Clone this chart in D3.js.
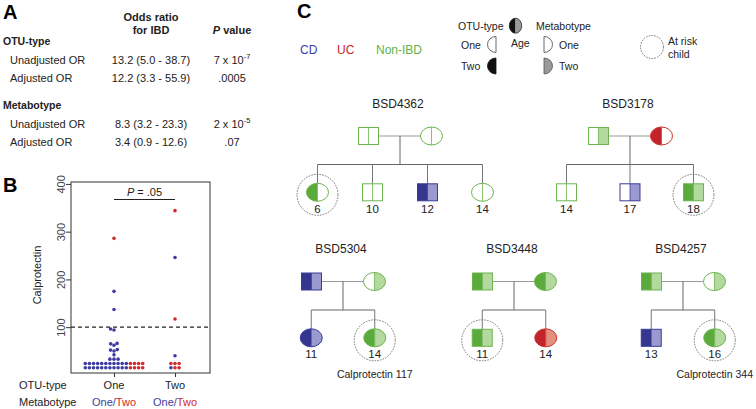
<!DOCTYPE html>
<html>
<head>
<meta charset="utf-8">
<script src="https://cdn.jsdelivr.net/npm/d3@7"></script>
<style>
  body { margin: 0; background: #fff; }
  svg { font-family: "Liberation Sans", Arial, sans-serif; }
</style>
</head>
<body>
<svg id="fig" width="756" height="409"></svg>
<script>
"use strict";

// ---- panel A: odds ratio table ----
const tableGroups = ["OTU-type", "Metabotype"];
const tableRowNames = ["Unadjusted OR", "Adjusted OR"];
const oddsRatios = [["13.2 (5.0 - 38.7)", "12.2 (3.3 - 55.9)"], ["8.3 (3.2 - 23.3)", "3.4 (0.9 - 12.6)"]];
const pValues = [["7 x 10^-7", ".0005"], ["2 x 10^-5", ".07"]];

// ---- panel B: calprotectin by OTU-type, coloured by metabotype ----
const otuTypes = ["One", "Two"];
const calproOneMetaOne = [15,15,15,15,15,15,15,15,15,15,15, 24,24,24,24,24,24,24,24,24,24,24,
                          33,33,33, 42, 50, 52, 53, 62, 65, 66, 94, 96, 137, 175];
const calproOneMetaTwo = [15,15,15,15, 24,24,24,24, 286];
const calproTwoMetaOne = [15, 40, 246];
const calproTwoMetaTwo = [15,15, 24,24,24, 117, 344];
const yTicks = [100, 200, 300, 400];
const calproCutoff = 100;
const pText = ".05";

// ---- panel C: family pedigrees ----
const familyIds = ["BSD4362", "BSD3178", "BSD5304", "BSD3448", "BSD4257"];
// [sex, diagnosis, OTU-type, metabotype]
const fathers = [["M","NonIBD",1,1], ["M","NonIBD",1,2], ["M","CD",2,2], ["M","NonIBD",2,2], ["M","NonIBD",2,2]];
const mothers = [["F","NonIBD",1,1], ["F","UC",2,1], ["F","NonIBD",1,2], ["F","NonIBD",2,2], ["F","NonIBD",1,2]];
// [sex, diagnosis, OTU-type, metabotype, age, at risk, calprotectin]
const children = [
  [["F","NonIBD",2,1,6,true,null], ["M","NonIBD",1,1,10,false,null], ["M","CD",2,2,12,false,null], ["F","NonIBD",1,1,14,false,null]],
  [["M","NonIBD",1,1,14,false,null], ["M","CD",1,2,17,false,null], ["M","NonIBD",2,2,18,true,null]],
  [["F","CD",2,2,11,false,null], ["F","NonIBD",2,2,14,true,117]],
  [["M","NonIBD",2,2,11,true,null], ["F","UC",2,2,14,false,null]],
  [["M","CD",2,2,13,false,null], ["F","NonIBD",2,2,16,true,344]]
];
const diagnoses = ["CD", "UC", "NonIBD"];
const diagnosisLabels = ["CD", "UC", "Non-IBD"];

// ---- styles / layout ----
const dxColors = {
  CD:     {line: "#3a3c98", dark: "#35378f", light: "#9a9ad0", text: "#3b3db0"},
  UC:     {line: "#cc3333", dark: "#c2242a", light: "#e3907f", text: "#cc2424"},
  NonIBD: {line: "#6cb44e", dark: "#5aab3b", light: "#b4d99e", text: "#5cb34a"}
};
const metaColors = {One: "#3c3ca2", Two: "#d22a2a"};
const ink = "#222";

const svg = d3.select("#fig");

// ================= Panel A =================
const gA = svg.append("g");
gA.append("text").attr("x", 3).attr("y", 19).attr("font-size", 20).attr("font-weight", "bold").text("A");
const colOR = 151, colP = 232;
gA.append("text").attr("x", colOR).attr("y", 20.5).attr("text-anchor", "middle")
  .attr("font-size", 11).attr("font-weight", "bold").attr("fill", ink).text("Odds ratio");
gA.append("text").attr("x", colOR).attr("y", 33.5).attr("text-anchor", "middle")
  .attr("font-size", 11).attr("font-weight", "bold").attr("fill", ink).text("for IBD");
let ph = gA.append("text").attr("x", colP).attr("y", 33.5).attr("text-anchor", "middle")
  .attr("font-size", 11).attr("font-weight", "bold").attr("fill", ink);
ph.append("tspan").attr("font-style", "italic").text("P");
ph.append("tspan").text(" value");

const groupY = [45, 109];
tableGroups.forEach(function(grp, gi){
  gA.append("text").attr("x", 3).attr("y", groupY[gi]).attr("font-size", 10.5)
    .attr("font-weight", "bold").attr("fill", ink).text(grp);
  tableRowNames.forEach(function(rn, ri){
    let yy = groupY[gi] + 18.5 + ri * 18.5;
    gA.append("text").attr("x", 10).attr("y", yy).attr("font-size", 11).attr("fill", ink).text(rn);
    gA.append("text").attr("x", colOR).attr("y", yy).attr("text-anchor", "middle")
      .attr("font-size", 11).attr("fill", ink).text(oddsRatios[gi][ri]);
    let parts = pValues[gi][ri].split("^");
    let t = gA.append("text").attr("x", colP).attr("y", yy).attr("text-anchor", "middle")
      .attr("font-size", 11).attr("fill", ink);
    t.append("tspan").text(parts[0]);
    if (parts[1]) t.append("tspan").attr("dy", -5).attr("font-size", 7.5).text(parts[1]);
  });
});

// ================= Panel B =================
const gB = svg.append("g");
gB.append("text").attr("x", 3).attr("y", 192).attr("font-size", 20).attr("font-weight", "bold").text("B");

const box = {left: 71, right: 210, top: 182, bottom: 373};
const y = d3.scaleLinear().domain([4, 404]).range([box.bottom, box.top]);
const x = d3.scalePoint().domain(otuTypes).range([114, 175]);

gB.append("rect").attr("x", box.left).attr("y", box.top)
  .attr("width", box.right - box.left).attr("height", box.bottom - box.top)
  .attr("fill", "none").attr("stroke", "#333").attr("stroke-width", 1);

// y axis
const yAxis = gB.append("g").attr("transform", "translate(" + box.left + ",0)")
  .call(d3.axisLeft(y).tickValues(yTicks).tickSize(5).tickFormat(d3.format("d")));
yAxis.select(".domain").remove();
yAxis.selectAll("line").attr("stroke", "#333");
yAxis.selectAll("text")
  .attr("x", null).attr("dy", null)
  .attr("transform", "translate(-6.5,0) rotate(-90)")
  .attr("text-anchor", "middle")
  .attr("font-size", 11).attr("fill", "#444")
  .attr("font-family", "Liberation Sans, Arial, sans-serif");
gB.append("text").attr("transform", "translate(41," + 275 + ") rotate(-90)")
  .attr("text-anchor", "middle").attr("font-size", 11).attr("fill", ink).text("Calprotectin");

// x axis
const xAxis = gB.append("g").attr("transform", "translate(0," + box.bottom + ")")
  .call(d3.axisBottom(x).tickSize(4).tickFormat(""));
xAxis.select(".domain").remove();
xAxis.selectAll("line").attr("stroke", "#333");

// cutoff line
gB.append("line").attr("x1", box.left).attr("x2", box.right)
  .attr("y1", y(calproCutoff)).attr("y2", y(calproCutoff))
  .attr("stroke", "#222").attr("stroke-width", 1.1).attr("stroke-dasharray", "4,3");

// significance bar
gB.append("line").attr("x1", x("One")).attr("x2", x("Two")).attr("y1", 199.5).attr("y2", 199.5)
  .attr("stroke", "#222").attr("stroke-width", 1.1);
let pt = gB.append("text").attr("x", (x("One") + x("Two")) / 2).attr("y", 196)
  .attr("text-anchor", "middle").attr("font-size", 11).attr("fill", ink);
pt.append("tspan").attr("font-style", "italic").text("P");
pt.append("tspan").text(" = " + pText);

// beeswarm: equal values form a centred row, others are packed greedily
const dotR = 1.8, rowGap = 4.1, minDist = 3.6;
function swarm(metaOne, metaTwo){
  let pts = metaOne.map(v => ({v: v, m: "One"})).concat(metaTwo.map(v => ({v: v, m: "Two"})));
  pts.forEach(p => p.py = y(p.v));
  let groups = d3.groups(pts, p => p.v).sort((a, b) => a[0] - b[0]);
  let placed = [];
  groups.forEach(function(g){
    let arr = g[1].sort((a, b) => (a.m === "Two") - (b.m === "Two"));
    if (arr.length > 1){
      arr.forEach(function(p, i){ p.dx = (i - (arr.length - 1) / 2) * rowGap; placed.push(p); });
    } else {
      let p = arr[0];
      let cands = [0];
      placed.forEach(function(q){
        let dy = Math.abs(q.py - p.py);
        if (dy < minDist){
          let off = Math.sqrt(minDist * minDist - dy * dy);
          cands.push(q.dx - off, q.dx + off);
        }
      });
      let ok = cands.filter(c => placed.every(q => Math.hypot(q.dx - c, q.py - p.py) >= minDist - 1e-6));
      ok.sort((a, b) => Math.abs(a) - Math.abs(b) || a - b);
      p.dx = ok[0];
      placed.push(p);
    }
  });
  return placed;
}
const swarmData = [
  {otu: "One", pts: swarm(calproOneMetaOne, calproOneMetaTwo)},
  {otu: "Two", pts: swarm(calproTwoMetaOne, calproTwoMetaTwo)}
];
swarmData.forEach(function(s){
  gB.append("g").selectAll("circle").data(s.pts).join("circle")
    .attr("cx", d => x(s.otu) + d.dx).attr("cy", d => d.py).attr("r", dotR)
    .attr("fill", d => metaColors[d.m]);
});

// labels under the plot
gB.append("text").attr("x", 19).attr("y", 388.5).attr("font-size", 11).attr("fill", ink).text("OTU-type");
gB.append("text").attr("x", 19).attr("y", 405.5).attr("font-size", 11).attr("fill", ink).text("Metabotype");
otuTypes.forEach(function(o){
  gB.append("text").attr("x", x(o)).attr("y", 388.5).attr("text-anchor", "middle")
    .attr("font-size", 11).attr("fill", ink).text(o);
  let t = gB.append("text").attr("x", x(o)).attr("y", 405.5).attr("text-anchor", "middle").attr("font-size", 11);
  t.append("tspan").attr("fill", metaColors.One).text("One/");
  t.append("tspan").attr("fill", metaColors.Two).text("Two");
});

// ================= Panel C =================
const gC = svg.append("g");
gC.append("text").attr("x", 297).attr("y", 18).attr("font-size", 20).attr("font-weight", "bold").text("C");

// diagnosis legend
const dxLegendX = [300, 337, 376];
diagnoses.forEach(function(dx, i){
  gC.append("text").attr("x", dxLegendX[i]).attr("y", 54).attr("font-size", 12)
    .attr("fill", dxColors[dx].text).text(diagnosisLabels[i]);
});

function halfPath(cx, cy, rx, ry, side){
  // side: 0 = left half, 1 = right half
  return "M" + cx + "," + (cy - ry) + " A" + rx + "," + ry + " 0 0 " + side + " " + cx + "," + (cy + ry) + " Z";
}

// OTU-type / metabotype legend
const lg = gC.append("g");
lg.append("path").attr("d", halfPath(515.5, 25.7, 6.2, 7.5, 0)).attr("fill", "#111");
lg.append("path").attr("d", halfPath(515.5, 25.7, 6.2, 7.5, 1)).attr("fill", "#9a9a9a");
lg.append("ellipse").attr("cx", 515.5).attr("cy", 25.7).attr("rx", 6.2).attr("ry", 7.5)
  .attr("fill", "none").attr("stroke", "#222").attr("stroke-width", 0.8);
lg.append("text").attr("x", 458).attr("y", 29.5).attr("font-size", 10.5).attr("fill", ink).text("OTU-type");
lg.append("text").attr("x", 536).attr("y", 29.5).attr("font-size", 10.5).attr("fill", ink).text("Metabotype");
lg.append("text").attr("x", 511).attr("y", 47).attr("font-size", 10.5).attr("fill", ink).text("Age");
lg.append("text").attr("x", 461).attr("y", 48.5).attr("font-size", 10.5).attr("fill", ink).text("One");
lg.append("text").attr("x", 461).attr("y", 70).attr("font-size", 10.5).attr("fill", ink).text("Two");
lg.append("text").attr("x", 559).attr("y", 48.5).attr("font-size", 10.5).attr("fill", ink).text("One");
lg.append("text").attr("x", 559).attr("y", 70).attr("font-size", 10.5).attr("fill", ink).text("Two");
lg.append("path").attr("d", halfPath(496, 44.5, 8.5, 8, 0)).attr("fill", "#fff").attr("stroke", "#444").attr("stroke-width", 0.8);
lg.append("path").attr("d", halfPath(496, 66, 8.5, 8, 0)).attr("fill", "#111").attr("stroke", "#111").attr("stroke-width", 0.8);
lg.append("path").attr("d", halfPath(544, 44.5, 8.5, 8, 1)).attr("fill", "#fff").attr("stroke", "#444").attr("stroke-width", 0.8);
lg.append("path").attr("d", halfPath(544, 66, 8.5, 8, 1)).attr("fill", "#9a9a9a").attr("stroke", "#555").attr("stroke-width", 0.8);

// at-risk legend
gC.append("circle").attr("cx", 652).attr("cy", 47).attr("r", 11.5).attr("fill", "none")
  .attr("stroke", "#555").attr("stroke-width", 0.8).attr("stroke-dasharray", "1.6,1.2");
gC.append("text").attr("x", 668).attr("y", 45).attr("font-size", 10.5).attr("fill", ink).text("At risk");
gC.append("text").attr("x", 668).attr("y", 58).attr("font-size", 10.5).attr("fill", ink).text("child");

// pedigree layout
const famCenters = [400, 630, 343, 514, 683];
const famRowY = [136, 281.5, 281.5, 281.5, 281.5].map((v, i) => i < 2 ? 136 : 281.5);
const parentHalfGap = 31.5;
const sqW = 20, sqH = 17, elRx = 11, elRy = 9;
const lineCol = "#777";

function drawMember(g, m, cx, cy){
  let col = dxColors[m[1]];
  let leftFill = m[2] === 2 ? col.dark : "#fff";
  let rightFill = m[3] === 2 ? col.light : "#fff";
  if (m[0] === "M"){
    g.append("rect").attr("x", cx - sqW / 2).attr("y", cy - sqH / 2).attr("width", sqW / 2).attr("height", sqH).attr("fill", leftFill);
    g.append("rect").attr("x", cx).attr("y", cy - sqH / 2).attr("width", sqW / 2).attr("height", sqH).attr("fill", rightFill);
    g.append("rect").attr("x", cx - sqW / 2).attr("y", cy - sqH / 2).attr("width", sqW).attr("height", sqH)
      .attr("fill", "none").attr("stroke", col.line).attr("stroke-width", 1);
    g.append("line").attr("x1", cx).attr("x2", cx).attr("y1", cy - sqH / 2).attr("y2", cy + sqH / 2)
      .attr("stroke", col.line).attr("stroke-width", 0.8);
  } else {
    g.append("path").attr("d", halfPath(cx, cy, elRx, elRy, 0)).attr("fill", leftFill);
    g.append("path").attr("d", halfPath(cx, cy, elRx, elRy, 1)).attr("fill", rightFill);
    g.append("ellipse").attr("cx", cx).attr("cy", cy).attr("rx", elRx).attr("ry", elRy)
      .attr("fill", "none").attr("stroke", col.line).attr("stroke-width", 1);
    g.append("line").attr("x1", cx).attr("x2", cx).attr("y1", cy - elRy).attr("y2", cy + elRy)
      .attr("stroke", col.line).attr("stroke-width", 0.8);
  }
}
function halfHeight(m){ return m[0] === "M" ? sqH / 2 : elRy; }
function halfWidth(m){ return m[0] === "M" ? sqW / 2 : elRx; }

familyIds.forEach(function(id, fi){
  let g = gC.append("g");
  let cx = famCenters[fi], py = famRowY[fi];
  let sibY = py + 28.5, kidY = py + 56.3;
  let kids = children[fi];
  let span = kids.length === 4 ? 165 : (kids.length - 1) * 63.5;
  let kx = d3.scalePoint().domain(d3.range(kids.length)).range([cx - span / 2, cx + span / 2]);

  g.append("text").attr("x", cx - 2).attr("y", py - 28.5).attr("text-anchor", "middle")
    .attr("font-size", 12).attr("fill", ink).text(id);

  let fx = cx - parentHalfGap, mx = cx + parentHalfGap;
  g.append("line").attr("x1", fx + halfWidth(fathers[fi])).attr("x2", mx - halfWidth(mothers[fi]))
    .attr("y1", py).attr("y2", py).attr("stroke", "#999").attr("stroke-width", 1.2);
  g.append("line").attr("x1", cx).attr("x2", cx).attr("y1", py).attr("y2", sibY)
    .attr("stroke", "#666").attr("stroke-width", 1);
  g.append("line").attr("x1", kx(0)).attr("x2", kx(kids.length - 1)).attr("y1", sibY).attr("y2", sibY)
    .attr("stroke", "#666").attr("stroke-width", 1);
  kids.forEach(function(k, ki){
    g.append("line").attr("x1", kx(ki)).attr("x2", kx(ki)).attr("y1", sibY).attr("y2", kidY - halfHeight(k))
      .attr("stroke", lineCol).attr("stroke-width", 1);
  });

  drawMember(g, fathers[fi], fx, py);
  drawMember(g, mothers[fi], mx, py);
  kids.forEach(function(k, ki){
    let kxx = kx(ki);
    drawMember(g, k, kxx, kidY);
    g.append("text").attr("x", kxx).attr("y", kidY + 20.5).attr("text-anchor", "middle")
      .attr("font-size", 11.5).attr("fill", ink).text(k[4]);
    if (k[5]){
      g.append("circle").attr("cx", kxx).attr("cy", kidY + 2.5).attr("r", 20.5).attr("fill", "none")
        .attr("stroke", "#555").attr("stroke-width", 0.8).attr("stroke-dasharray", "1.6,1.2");
    }
    if (k[6] !== null){
      g.append("text").attr("x", kxx).attr("y", kidY + 40).attr("text-anchor", "middle")
        .attr("font-size", 10.5).attr("fill", ink).text("Calprotectin " + k[6]);
    }
  });
});
</script>
</body>
</html>
